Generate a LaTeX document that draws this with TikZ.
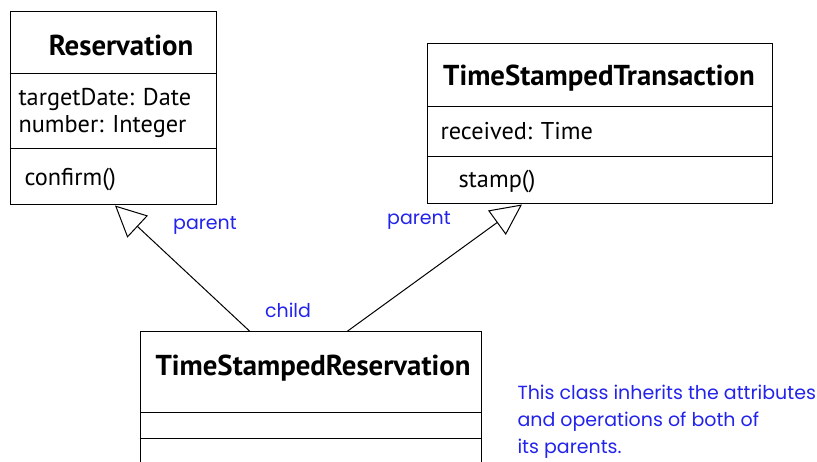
\documentclass[tikz,border=0pt]{standalone}
\usepackage{fontspec}
\setmainfont{PT Sans}
\newfontfamily\notefont{Poppins}
\usetikzlibrary{arrows.meta}
\definecolor{noteblue}{RGB}{35,35,235}

\begin{document}
\begin{tikzpicture}[x=1pt, y=-1pt, line width=1pt,
		classbox/.style={draw, line width=1pt, inner sep=0pt},
		classname/.style={font=\fontsize{28.8}{32}\selectfont\bfseries, inner sep=0pt},
		member/.style={font=\fontsize{24.3}{28}\selectfont, anchor=west, inner sep=0pt},
		role/.style={font=\notefont\fontsize{19}{22}\selectfont, text=noteblue, inner sep=0pt},
		inherits/.style={-{Triangle[open, length=31pt, width=30pt]}}]
		%%%%% START %%%%%
		
		\useasboundingbox (0, 0) rectangle (817, 462);
		
		% Reservation
		\node[classbox, minimum width=206pt, minimum height=193pt] (res) at (113, 108.5) {};
		\draw (res.west |- 0, 74) -- (res.east |- 0, 74);
		\draw (res.west |- 0, 149) -- (res.east |- 0, 149);
		\node[classname] (resname) at (121, 45) {Reservation};
		\node[member] (resdate) at (18, 99) {targetDate: Date};
		\node[member] (resnum) at (18, 127) {number: Integer};
		\node[member] (resconf) at (24, 180) {confirm()};
		
		% TimeStampedTransaction
		\node[classbox, minimum width=345pt, minimum height=160pt] (tst) at (599.5, 124) {};
		\draw (tst.west |- 0, 107) -- (tst.east |- 0, 107);
		\draw (tst.west |- 0, 157) -- (tst.east |- 0, 157);
		\node[classname] (tstname) at (599, 78) {TimeStampedTransaction};
		\node[member] (tstrecv) at (440, 131) {received: Time};
		\node[member] (tststamp) at (458, 182) {stamp()};
		
		% TimeStampedReservation
		\node[classbox, minimum width=341pt, minimum height=160pt] (tsr) at (310.5, 412) {};
		\draw (tsr.west |- 0, 412) -- (tsr.east |- 0, 412);
		\draw (tsr.west |- 0, 438) -- (tsr.east |- 0, 438);
		\node[classname] (tsrname) at (313, 368) {TimeStampedReservation};
		
		\draw[inherits] (tsr.north -| 250, 0) -- (res.south -| 115, 0);
		\draw[inherits] (tsr.north -| 347, 0) -- (tst.south -| 522, 0);
		
		\node[role] (respar) at (205, 225) {parent};
		\node[role] (tstpar) at (419, 220) {parent};
		\node[role] (tsrchild) at (288, 310) {child};
		
		\node[role, anchor=north west, align=left, font=\notefont\fontsize{19}{27}\selectfont] (note) at (517, 385)
			{This class inherits the attributes\\and operations of both of\\its parents.};
		
		%%%%% END %%%%%
	\end{tikzpicture}
\end{document}
